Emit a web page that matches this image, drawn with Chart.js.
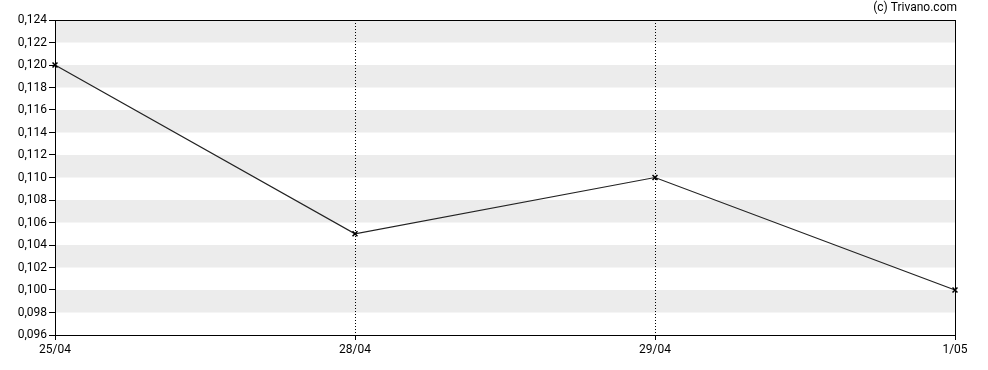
<!DOCTYPE html>
<html>
<head>
<meta charset="utf-8">
<script src="https://cdn.jsdelivr.net/npm/chart.js@4/dist/chart.umd.min.js"></script>
<style>
  html, body { margin: 0; padding: 0; background: #fff; }
  #wrap { width: 988px; height: 370px; }
</style>
</head>
<body>
<div id="wrap"><canvas id="priceChart" width="988" height="370"></canvas></div>
<script>
const dates = ["25/04", "28/04", "29/04", "1/05"];
const prices = [0.120, 0.105, 0.110, 0.100];
const yMin = 0.096;
const yMax = 0.124;
const yStep = 0.002;
const creditText = "(c) Trivano.com";

const fontFamily = "Roboto, 'DejaVu Sans', sans-serif";

// grey bands every other y step (under the grid) + box around the plot
const bandsPlugin = {
  id: "bands",
  beforeDraw(chart) {
    const { ctx, chartArea, scales } = chart;
    const y = scales.y;
    ctx.save();
    ctx.fillStyle = "#ececec";
    const ticks = y.ticks;
    for (let i = ticks.length - 1; i > 0; i -= 2) {
      const top = y.getPixelForValue(ticks[i].value);
      const bottom = y.getPixelForValue(ticks[i - 1].value);
      ctx.fillRect(chartArea.left, top, chartArea.right - chartArea.left, bottom - top);
    }
    ctx.restore();
  },
  afterDatasetsDraw(chart) {
    const { ctx, chartArea } = chart;
    ctx.save();
    ctx.strokeStyle = "#000";
    ctx.lineWidth = 1;
    ctx.strokeRect(Math.round(chartArea.left) + 0.5, Math.round(chartArea.top) + 0.5,
      Math.round(chartArea.right - chartArea.left), Math.round(chartArea.bottom - chartArea.top));
    ctx.restore();
  },
  afterDraw(chart) {
    const { ctx, chartArea } = chart;
    ctx.save();
    ctx.font = "12px " + fontFamily;
    ctx.fillStyle = "#000";
    ctx.textAlign = "right";
    ctx.textBaseline = "middle";
    ctx.fillText(creditText, chartArea.right + 2, 8);
    ctx.restore();
  }
};

const ctx = document.getElementById("priceChart").getContext("2d");
new Chart(ctx, {
  type: "line",
  data: {
    labels: dates,
    datasets: [
      {
        data: prices,
        borderColor: "#222",
        borderWidth: 1.2,
        tension: 0,
        pointStyle: "crossRot",
        pointRadius: 3.5,
        pointBorderWidth: 1.5,
        pointBorderColor: "#000",
        pointBackgroundColor: "#000",
      },
    ],
  },
  options: {
    responsive: false,
    animation: false,
    layout: { padding: { top: 20, right: 33, left: 0, bottom: 0 } },
    plugins: {
      legend: { display: false },
      tooltip: { enabled: false },
    },
    scales: {
      x: {
        type: "category",
        offset: false,
        afterFit: (scale) => { scale.height = 35; },
        grid: {
          drawOnChartArea: true,
          color: (c) => (c.index === 0 || c.index === dates.length - 1) ? "rgba(0,0,0,0)" : "#000",
          tickColor: "#000",
          tickLength: 5,
          tickBorderDash: [1, 0],
        },
        border: { display: true, color: "#000", dash: [1, 2] },
        ticks: {
          color: "#000",
          font: { family: fontFamily, size: 12 },
          maxRotation: 0,
          autoSkip: false,
          padding: 3,
        },
      },
      y: {
        min: yMin,
        max: yMax,
        afterFit: (scale) => { scale.width = 55; },
        grid: {
          drawOnChartArea: false,
          tickColor: "#000",
          tickLength: 6,
        },
        border: { display: true, color: "#000" },
        ticks: {
          stepSize: yStep,
          color: "#000",
          font: { family: fontFamily, size: 12 },
          padding: 2,
          callback: (v) => v.toFixed(3).replace(".", ","),
        },
      },
    },
  },
  plugins: [bandsPlugin],
});
</script>
</body>
</html>
